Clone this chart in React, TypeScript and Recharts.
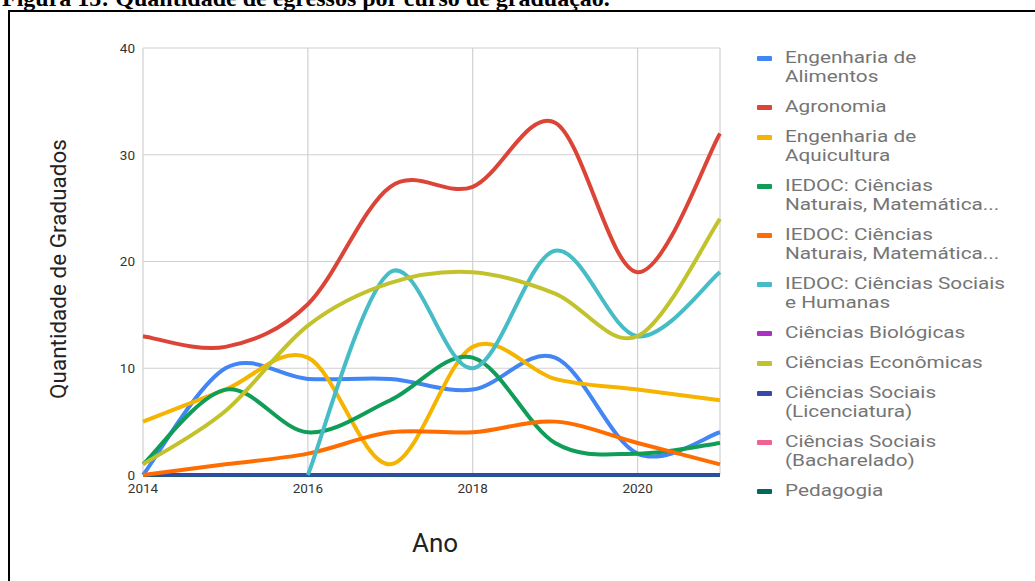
import React from 'react';
import { LineChart, Line, XAxis, YAxis, CartesianGrid } from 'recharts';

const years = [2014, 2015, 2016, 2017, 2018, 2019, 2020, 2021];
const xTicks = [2014, 2016, 2018, 2020];
const yTicks = [0, 10, 20, 30, 40];

const engAlimentos = [0, 10, 9, 9, 8, 11, 2, 4];
const agronomia = [13, 12, 16, 27, 27, 33, 19, 32];
const engAquicultura = [5, 8, 11, 1, 12, 9, 8, 7];
const iedocNaturaisA = [1, 8, 4, 7, 11, 3, 2, 3];
const iedocNaturaisB = [0, 1, 2, 4, 4, 5, 3, 1];
const iedocSociais: (number | null)[] = [null, null, 0, 19, 10, 21, 13, 19];
const biologicas = [0, 0, 0, 0, 0, 0, 0, 0];
const economicas = [1, 6, 14, 18, 19, 17, 13, 24];
const sociaisLic = [0, 0, 0, 0, 0, 0, 0, 0];
const sociaisBach = [0, 0, 0, 0, 0, 0, 0, 0];
const pedagogia = [0, 0, 0, 0, 0, 0, 0, 0];

const series = [
  { key: 'engAlimentos', lines: ['Engenharia de', 'Alimentos'], color: '#4285F4', values: engAlimentos },
  { key: 'agronomia', lines: ['Agronomia'], color: '#DB4437', values: agronomia },
  { key: 'engAquicultura', lines: ['Engenharia de', 'Aquicultura'], color: '#F4B400', values: engAquicultura },
  { key: 'iedocNaturaisA', lines: ['IEDOC: Ciências', 'Naturais, Matemática...'], color: '#0F9D58', values: iedocNaturaisA },
  { key: 'iedocNaturaisB', lines: ['IEDOC: Ciências', 'Naturais, Matemática...'], color: '#FF6D00', values: iedocNaturaisB },
  { key: 'iedocSociais', lines: ['IEDOC: Ciências Sociais', 'e Humanas'], color: '#46BDC6', values: iedocSociais },
  { key: 'biologicas', lines: ['Ciências Biológicas'], color: '#AB30C4', values: biologicas },
  { key: 'economicas', lines: ['Ciências Econômicas'], color: '#C2C22C', values: economicas },
  { key: 'sociaisLic', lines: ['Ciências Sociais', '(Licenciatura)'], color: '#3949AB', values: sociaisLic },
  { key: 'sociaisBach', lines: ['Ciências Sociais', '(Bacharelado)'], color: '#F06292', values: sociaisBach },
  { key: 'pedagogia', lines: ['Pedagogia'], color: '#00695C', values: pedagogia },
];

// drawing order (zero series first, Licenciatura on top of the baseline)
const drawOrder = [
  'biologicas', 'sociaisBach', 'pedagogia', 'sociaisLic',
  'engAlimentos', 'agronomia', 'engAquicultura', 'iedocNaturaisA', 'iedocNaturaisB', 'iedocSociais', 'economicas',
];

const data = years.map((y, i) => {
  const row: Record<string, number | null> = { year: y };
  series.forEach((s) => {
    row[s.key] = s.values[i];
  });
  return row;
});

// Catmull-Rom style smoothing curve (like Google Charts "function" curve)
const smoothCurve: any = (context: any) => {
  let xs: number[] = [];
  let ys: number[] = [];
  return {
    areaStart() {},
    areaEnd() {},
    lineStart() {
      xs = [];
      ys = [];
    },
    lineEnd() {
      const n = xs.length;
      if (n === 0) return;
      context.moveTo(xs[0], ys[0]);
      if (n === 1) return;
      const k = 1 / 6;
      for (let i = 0; i < n - 1; i++) {
        const x0 = i > 0 ? xs[i - 1] : xs[i];
        const y0 = i > 0 ? ys[i - 1] : ys[i];
        const x3 = i + 2 < n ? xs[i + 2] : xs[i + 1];
        const y3 = i + 2 < n ? ys[i + 2] : ys[i + 1];
        context.bezierCurveTo(
          xs[i] + k * (xs[i + 1] - x0),
          ys[i] + k * (ys[i + 1] - y0),
          xs[i + 1] - k * (x3 - xs[i]),
          ys[i + 1] - k * (y3 - ys[i]),
          xs[i + 1],
          ys[i + 1]
        );
      }
    },
    point(x: number, y: number) {
      xs.push(+x);
      ys.push(+y);
    },
  };
};

const LegendBox = () => (
  <div
    style={{
      position: 'absolute',
      left: 757,
      top: 48,
      width: 275,
      fontFamily: 'Roboto, sans-serif',
      fontSize: 17,
      color: '#757575',
    }}
  >
    {series.map((s) => (
      <div key={s.key} style={{ display: 'flex', alignItems: 'flex-start', marginBottom: 11 }}>
        <div style={{ width: 15, height: 5, background: s.color, marginTop: 8, marginRight: 13, borderRadius: 1, flex: 'none' }} />
        <div style={{ lineHeight: '19px' }}>
          {s.lines.map((l, j) => (
            <div key={j} style={{ transform: 'scaleX(1.22)', transformOrigin: 'left center', whiteSpace: 'nowrap' }}>
              {l}
            </div>
          ))}
        </div>
      </div>
    ))}
  </div>
);

const YTitle = () => (
  <text
    x={58}
    y={269}
    transform="rotate(-90 58 269)"
    textAnchor="middle"
    dominantBaseline="central"
    fontFamily="Roboto, sans-serif"
    fontSize={22.5}
    fill="#222"
  >
    Quantidade de Graduados
  </text>
);

const XTitle = () => (
  <text x={435} y={552} textAnchor="middle" fontFamily="Roboto, sans-serif" fontSize={26} fill="#222">
    Ano
  </text>
);

export default function App() {
  return (
    <div style={{ position: 'fixed', left: 0, top: 0, width: 1035, height: 581, overflow: 'hidden', background: '#fff' }}>
      <div
        style={{
          position: 'absolute',
          left: 2,
          top: -14,
          fontFamily: '"Liberation Serif", "Times New Roman", serif',
          fontWeight: 'bold',
          fontSize: 24,
          lineHeight: '24px',
          whiteSpace: 'nowrap',
          color: '#000',
        }}
      >
        Figura 15: Quantidade de egressos por curso de graduação.
      </div>
      <div
        style={{
          position: 'absolute',
          left: 8,
          top: 10,
          width: 1200,
          height: 800,
          border: '2px solid #000',
        }}
      />
      <div style={{ position: 'absolute', left: 0, top: 0 }}>
        <LineChart width={1035} height={581} data={data} margin={{ top: 48, right: 315, bottom: 76, left: 0 }}>
          <CartesianGrid stroke="#d0d0d0" strokeWidth={1.2} />
          <XAxis
            dataKey="year"
            type="number"
            domain={[2014, 2021]}
            ticks={xTicks}
            tickLine={false}
            axisLine={false}
            height={30}
            tick={{ fontFamily: 'Roboto, sans-serif', fontSize: 13.5, fill: '#333' }}
            label={<XTitle />}
          />
          <YAxis
            type="number"
            domain={[0, 40]}
            ticks={yTicks}
            tickLine={false}
            axisLine={false}
            width={143}
            tick={{ fontFamily: 'Roboto, sans-serif', fontSize: 13.5, fill: '#333' }}
            label={<YTitle />}
          />
          {drawOrder.map((k) => {
            const s = series.find((x) => x.key === k)!;
            return (
              <Line
                key={k}
                dataKey={k}
                name={s.lines.join(' ')}
                stroke={s.color}
                strokeWidth={k === 'sociaisLic' ? 3 : 4}
                type={smoothCurve}
                dot={false}
                activeDot={false}
                isAnimationActive={false}
              />
            );
          })}
        </LineChart>
      </div>
      <LegendBox />
    </div>
  );
}
